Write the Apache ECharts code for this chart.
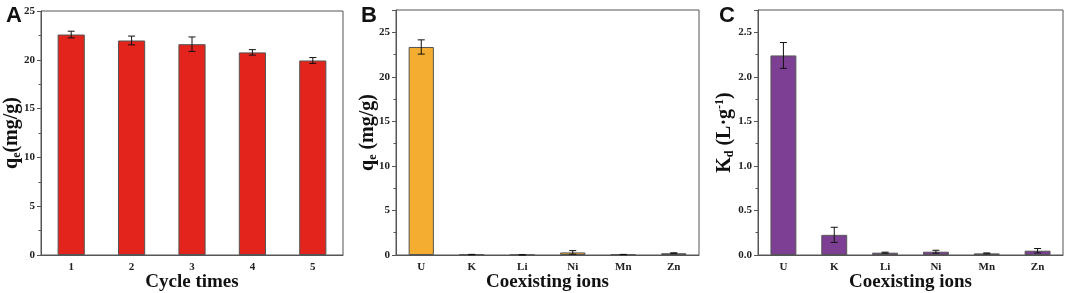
<!DOCTYPE html>
<html>
<head>
<meta charset="utf-8">
<script src="https://cdn.jsdelivr.net/npm/echarts@6/dist/echarts.min.js"></script>
<style>
  html, body { margin: 0; padding: 0; background: #fff; }
  #chart { width: 1065px; height: 293px; }
</style>
</head>
<body>
<div id="chart"></div>
<script>
// 数据
const cycles = ['1', '2', '3', '4', '5'];
const cycleMean = [22.59, 21.98, 21.6, 20.76, 19.93];
const cycleErr = [0.34, 0.45, 0.74, 0.28, 0.3];

const ions = ['U', 'K', 'Li', 'Ni', 'Mn', 'Zn'];
const qeMean = [23.35, 0.05, 0.02, 0.29, 0.05, 0.2];
const qeErr = [0.8, 0.02, 0.01, 0.2, 0.02, 0.05];
const kdMean = [2.24, 0.226, 0.026, 0.037, 0.018, 0.048];
const kdErr = [0.145, 0.085, 0.006, 0.016, 0.005, 0.025];

const colors = ['#E2241C', '#F4AD31', '#7D3F94'];
const serif = "'Liberation Serif', 'Times New Roman', serif";

const chart = echarts.init(document.getElementById('chart'));

// 误差棒
function errSeries(idx, mean, err) {
  return {
    type: 'custom',
    xAxisIndex: idx,
    yAxisIndex: idx,
    z: 5,
    data: mean.map((m, i) => [i, m - err[i], m + err[i]]),
    renderItem: (params, api) => {
      const lo = api.coord([api.value(0), api.value(1)]);
      const hi = api.coord([api.value(0), api.value(2)]);
      const w = 3.5;
      const st = { stroke: '#111', lineWidth: 1 };
      return {
        type: 'group',
        children: [
          { type: 'line', shape: { x1: lo[0], y1: lo[1], x2: hi[0], y2: hi[1] }, style: st },
          { type: 'line', shape: { x1: hi[0] - w, y1: hi[1], x2: hi[0] + w, y2: hi[1] }, style: st },
          { type: 'line', shape: { x1: lo[0] - w, y1: lo[1], x2: lo[0] + w, y2: lo[1] }, style: st },
        ],
      };
    },
  };
}

const labelStyle = { fontFamily: serif, fontWeight: 'bold', fontSize: 11, color: '#222' };
const nameRich = {
  b: { fontFamily: serif, fontWeight: 'bold', fontSize: 20, color: '#111', lineHeight: 22, verticalAlign: 'middle' },
  s: { fontFamily: serif, fontWeight: 'bold', fontSize: 12, color: '#111', lineHeight: 12, verticalAlign: 'bottom' },
  p: { fontFamily: serif, fontWeight: 'bold', fontSize: 12, color: '#111', lineHeight: 12, verticalAlign: 'top' },
};

function xAxis(idx, data) {
  return {
    type: 'category',
    gridIndex: idx,
    data: data,
    name: idx === 0 ? 'Cycle times' : 'Coexisting ions',
    nameLocation: 'middle',
    nameGap: 18,
    nameMoveOverlap: false,
    nameTextStyle: { fontFamily: serif, fontWeight: 'bold', fontSize: 19, color: '#111' },
    axisLine: { lineStyle: { color: '#555' } },
    axisTick: { show: false },
    axisLabel: Object.assign({ margin: 7 }, labelStyle),
  };
}

function yAxis(idx, max, interval, name, gap, fmt) {
  return {
    type: 'value',
    gridIndex: idx,
    min: 0,
    max: max,
    interval: interval,
    name: name,
    nameLocation: 'middle',
    nameGap: gap,
    nameMoveOverlap: false,
    nameTextStyle: { rich: nameRich },
    axisLine: { show: true, lineStyle: { color: '#555' } },
    axisTick: { show: true, inside: false, length: 4, lineStyle: { color: '#555' } },
    minorTick: { show: true, splitNumber: 2, length: 2.5, lineStyle: { color: '#555' } },
    splitLine: { show: false },
    axisLabel: Object.assign({ margin: 6, showMaxLabel: idx === 0, formatter: fmt }, labelStyle),
  };
}

const option = {
  animation: false,
  title: [
    { text: 'A', left: 1, top: 0 },
    { text: 'B', left: 356, top: 0 },
    { text: 'C', left: 714, top: 0 },
  ].map((t) => Object.assign(t, {
    textStyle: { fontFamily: "'Liberation Sans', Arial, sans-serif", fontWeight: 'bold', fontSize: 22, color: '#111' },
  })),
  grid: [
    { left: 41, top: 11, width: 302, height: 244 },
    { left: 396, top: 10, width: 303, height: 245 },
    { left: 758, top: 10, width: 305, height: 245 },
  ].map((g) => Object.assign(g, {
    show: true, borderColor: '#555', borderWidth: 1, outerBoundsMode: 'none', containLabel: false,
  })),
  xAxis: [xAxis(0, cycles), xAxis(1, ions), xAxis(2, ions)],
  yAxis: [
    yAxis(0, 25, 5, '{b|q}{s|e}{b|(mg/g)}', 18, (v) => v),
    yAxis(1, 27.5, 5, '{b|q}{s|e}{b| (mg/g)}', 17, (v) => v),
    yAxis(2, 2.75, 0.5, '{b|K}{s|d}{b| (L·g}{p|-1}{b|)}', 22, (v) => v.toFixed(1)),
  ],
  series: [
    {
      type: 'bar', xAxisIndex: 0, yAxisIndex: 0, data: cycleMean, barWidth: '45%',
      itemStyle: { color: colors[0], borderColor: '#555', borderWidth: 1 },
    },
    errSeries(0, cycleMean, cycleErr),
    {
      type: 'bar', xAxisIndex: 1, yAxisIndex: 1, data: qeMean, barWidth: '50%',
      itemStyle: { color: colors[1], borderColor: '#555', borderWidth: 1 },
    },
    errSeries(1, qeMean, qeErr),
    {
      type: 'bar', xAxisIndex: 2, yAxisIndex: 2, data: kdMean, barWidth: '51%',
      itemStyle: { color: colors[2], borderColor: '#555', borderWidth: 1 },
    },
    errSeries(2, kdMean, kdErr),
  ],
};

chart.setOption(option);
</script>
</body>
</html>
